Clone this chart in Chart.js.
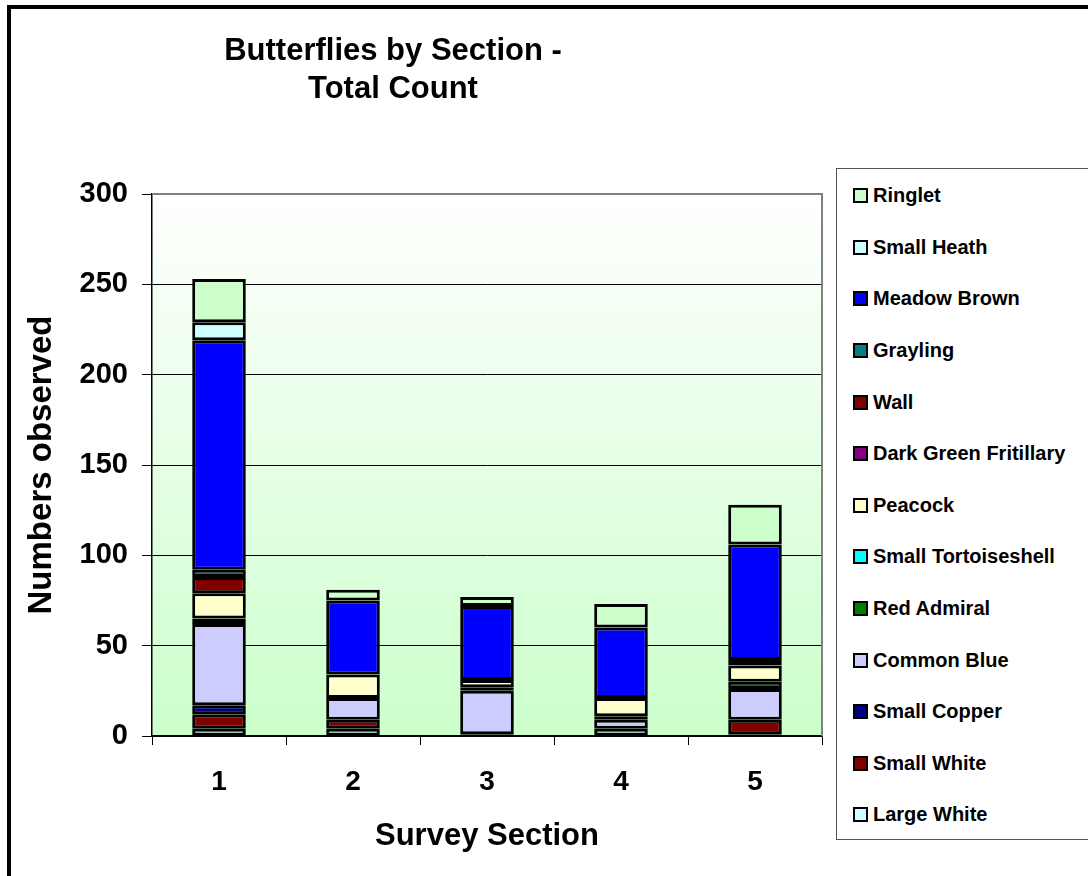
<!DOCTYPE html>
<html>
<head>
<meta charset="utf-8">
<title>Butterflies by Section - Total Count</title>
<script src="https://cdn.jsdelivr.net/npm/chart.js@4.4.1/dist/chart.umd.min.js"></script>
<style>
  html, body { margin: 0; padding: 0; background: #fff; overflow: hidden; }
  body { width: 1088px; height: 876px; position: relative; font-family: "Liberation Sans", Arial, sans-serif; }
  #frame { position: absolute; left: 7px; top: 5px; width: 1120px; height: 920px; border: 4px solid #000; box-sizing: border-box; }
  #chart { position: absolute; left: 0; top: 0; }
  #title { position: absolute; left: 193px; top: 31px; width: 400px; text-align: center;
           font-weight: bold; font-size: 31px; line-height: 38px; color: #000; }
  #legend { position: absolute; left: 836px; top: 168px; width: 270px; height: 672px;
            border: 1px solid #555; box-sizing: border-box; background: #fff; padding-top: 1px; }
  .item { height: 51.6px; display: flex; align-items: center; padding-left: 16px;
          font-weight: bold; font-size: 20px; color: #000; white-space: nowrap; }
  .swatch { width: 11px; height: 11px; border: 2px solid #000; margin-right: 5px; flex: none; }
</style>
</head>
<body>
<div id="frame"></div>
<canvas id="chart" width="1088" height="876"></canvas>
<div id="title">Butterflies by Section -<br>Total Count</div>
<div id="legend"></div>
<script>
// Survey sections along the x axis
const sections = ['1', '2', '3', '4', '5'];

// Counts per species, one value per section (stacked bottom to top in this order)
const largeWhite         = [4, 4, 0, 4, 1];
const smallWhite         = [8, 5, 1, 0, 8];
const smallCopper        = [5, 0, 0, 0, 0];
const commonBlue         = [45, 12, 24, 5, 17];
const redAdmiral         = [3, 0, 2, 2, 4];
const smallTortoiseshell = [0, 0, 0, 0, 0];
const peacock            = [14, 13, 4, 10, 9];
const darkGreenFritillary= [0, 0, 0, 0, 0];
const wall               = [9, 0, 0, 0, 3];
const grayling           = [4, 0, 0, 0, 0];
const meadowBrown        = [127, 41, 41, 39, 64];
const smallHeath         = [10, 0, 0, 0, 0];
const ringlet            = [24, 6, 5, 13, 22];

// Y axis tick values
const yTicks = [0, 50, 100, 150, 200, 250, 300];

const series = [
  { label: 'Large White',          data: largeWhite,          color: '#CCFFFF' },
  { label: 'Small White',          data: smallWhite,          color: '#800000' },
  { label: 'Small Copper',         data: smallCopper,         color: '#000080' },
  { label: 'Common Blue',          data: commonBlue,          color: '#CCCCFF' },
  { label: 'Red Admiral',          data: redAdmiral,          color: '#008000' },
  { label: 'Small Tortoiseshell',  data: smallTortoiseshell,  color: '#00FFFF' },
  { label: 'Peacock',              data: peacock,             color: '#FFFFCC' },
  { label: 'Dark Green Fritillary',data: darkGreenFritillary, color: '#800080' },
  { label: 'Wall',                 data: wall,                color: '#800000' },
  { label: 'Grayling',             data: grayling,            color: '#008080' },
  { label: 'Meadow Brown',         data: meadowBrown,         color: '#0000FF' },
  { label: 'Small Heath',          data: smallHeath,          color: '#CCFFFF' },
  { label: 'Ringlet',              data: ringlet,             color: '#CCFFCC' }
];

// Plot-area background: white fading to pale green, with grey top/right edge
const plotBackground = {
  id: 'plotBackground',
  beforeDraw(chart) {
    const { ctx, chartArea: a } = chart;
    const g = ctx.createLinearGradient(0, a.top, 0, a.bottom);
    g.addColorStop(0, '#FFFFFF');
    g.addColorStop(1, '#CCFFCC');
    ctx.save();
    ctx.fillStyle = g;
    ctx.fillRect(a.left, a.top, a.right - a.left, a.bottom - a.top);
    ctx.restore();
  },
  afterDatasetsDraw(chart) {
    const { ctx, chartArea: a } = chart;
    ctx.save();
    ctx.strokeStyle = '#808080';
    ctx.lineWidth = 2;
    ctx.beginPath();
    ctx.moveTo(a.left, a.top);
    ctx.lineTo(a.right, a.top);
    ctx.lineTo(a.right, a.bottom);
    ctx.stroke();
    ctx.restore();
  }
};

const font = 'Liberation Sans, Arial, sans-serif';

new Chart(document.getElementById('chart'), {
  type: 'bar',
  data: {
    labels: sections,
    datasets: series.map(s => ({
      label: s.label,
      // empty counts are left out so they draw no segment outline
      data: s.data.map(v => (v === 0 ? null : v)),
      backgroundColor: s.color,
      borderColor: '#000000',
      borderWidth: 3,
      borderSkipped: false,
      barPercentage: 0.4,
      categoryPercentage: 1.0
    }))
  },
  options: {
    responsive: false,
    animation: false,
    layout: { padding: { left: 0, top: 194, right: 266, bottom: 0 } },
    plugins: {
      legend: { display: false },
      title: { display: false },
      tooltip: { enabled: false }
    },
    scales: {
      x: {
        stacked: true,
        afterFit(scale) { scale.height = 140; },
        grid: { offset: true, drawOnChartArea: false, drawTicks: true, tickLength: 9, color: '#000000', tickColor: '#000000' },
        border: { display: true, color: '#000000', width: 1.5 },
        ticks: { color: '#000', padding: 20, font: { family: font, size: 28, weight: 'bold' } },
        title: { display: true, text: 'Survey Section', color: '#000',
                 font: { family: font, size: 31, weight: 'bold' }, padding: { top: 0, bottom: 21 } }
      },
      y: {
        stacked: true,
        min: 0,
        max: 300,
        afterFit(scale) { scale.width = 152; },
        afterBuildTicks(scale) { scale.ticks = yTicks.map(v => ({ value: v })); },
        grid: {
          color: ctx => (ctx.tick && ctx.tick.value === 300 ? 'rgba(0,0,0,0)' : '#000000'),
          tickColor: '#000000', tickLength: 10, lineWidth: 1
        },
        border: { display: true, color: '#000000', width: 1.5 },
        ticks: { color: '#000', padding: 14, font: { family: font, size: 29, weight: 'bold' } },
        title: { display: true, text: 'Numbers observed', color: '#000',
                 font: { family: font, size: 33, weight: 'bold' }, padding: { top: 22, bottom: 0 } }
      }
    }
  },
  plugins: [plotBackground]
});

// Legend, listed top of stack first
const legendEl = document.getElementById('legend');
series.slice().reverse().forEach(s => {
  const item = document.createElement('div');
  item.className = 'item';
  const sw = document.createElement('span');
  sw.className = 'swatch';
  sw.style.background = s.color;
  item.appendChild(sw);
  item.appendChild(document.createTextNode(s.label));
  legendEl.appendChild(item);
});
</script>
</body>
</html>
